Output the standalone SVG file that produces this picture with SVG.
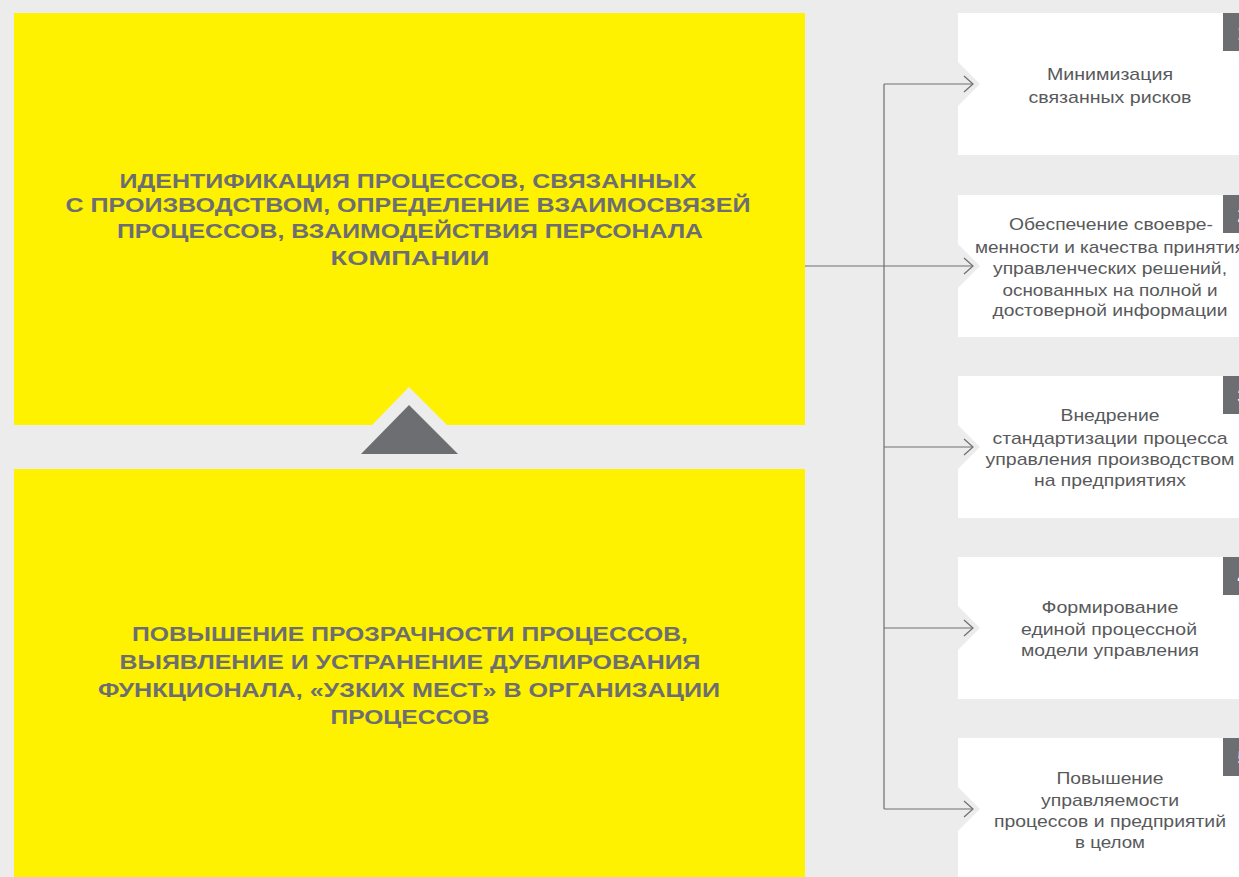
<svg xmlns="http://www.w3.org/2000/svg" width="1239" height="877" viewBox="0 0 1239 877">
<defs>
<style>
.bg{fill:#ececec}
.yel{fill:#fff200}
.box{fill:#ffffff}
.badge{fill:#6d6e71}
.big{font-family:"Liberation Sans",Arial,sans-serif;font-weight:bold;font-size:21px;fill:#6d6e71;text-anchor:middle}
.sm{font-family:"Liberation Sans",Arial,sans-serif;font-size:17px;fill:#58595b;text-anchor:middle}
.num{font-family:"Liberation Sans",Arial,sans-serif;font-weight:bold;font-size:20px;fill:#ffffff;text-anchor:middle}
.ln{fill:none;stroke:#6d6e71;stroke-width:1.2}
</style>
<marker id="chev" markerWidth="12" markerHeight="18" refX="10" refY="9" orient="auto" markerUnits="userSpaceOnUse">
<path d="M1,1 L10,9 L1,17" fill="none" stroke="#6d6e71" stroke-width="1.2"/>
</marker>
</defs>
<rect class="bg" x="0" y="0" width="1239" height="877"/>

<g id="node-top">
<rect class="yel" x="14" y="13" width="791" height="412"/>
<text class="big" x="408" y="188" textLength="577" lengthAdjust="spacingAndGlyphs">ИДЕНТИФИКАЦИЯ ПРОЦЕССОВ, СВЯЗАННЫХ</text>
<text class="big" x="408" y="212" textLength="685" lengthAdjust="spacingAndGlyphs">С ПРОИЗВОДСТВОМ, ОПРЕДЕЛЕНИЕ ВЗАИМОСВЯЗЕЙ</text>
<text class="big" x="410" y="238" textLength="586" lengthAdjust="spacingAndGlyphs">ПРОЦЕССОВ, ВЗАИМОДЕЙСТВИЯ ПЕРСОНАЛА</text>
<text class="big" x="410" y="265" textLength="159" lengthAdjust="spacingAndGlyphs">КОМПАНИИ</text>
</g>

<g id="node-bottom">
<rect class="yel" x="14" y="469" width="791" height="408"/>
<text class="big" x="410" y="641" textLength="556" lengthAdjust="spacingAndGlyphs">ПОВЫШЕНИЕ ПРОЗРАЧНОСТИ ПРОЦЕССОВ,</text>
<text class="big" x="410" y="669" textLength="581" lengthAdjust="spacingAndGlyphs">ВЫЯВЛЕНИЕ И УСТРАНЕНИЕ ДУБЛИРОВАНИЯ</text>
<text class="big" x="409" y="697" textLength="622" lengthAdjust="spacingAndGlyphs">ФУНКЦИОНАЛА, «УЗКИХ МЕСТ» В ОРГАНИЗАЦИИ</text>
<text class="big" x="410" y="724" textLength="159" lengthAdjust="spacingAndGlyphs">ПРОЦЕССОВ</text>
</g>

<g id="up-arrow">
<polygon class="bg" points="409,387 447,425 372,425"/>
<polygon class="badge" points="409,405 458,454 361,454"/>
</g>

<g id="node-1">
<path class="box" d="M958,13 H1239 V155 H958 V106 L980,84 L958,62 Z"/>
<rect class="badge" x="1223" y="13" width="40" height="38"/>
<text class="num" x="1243" y="40">1</text>
<text class="sm" x="1110" y="80" textLength="126" lengthAdjust="spacingAndGlyphs">Минимизация</text>
<text class="sm" x="1110" y="103" textLength="163" lengthAdjust="spacingAndGlyphs">связанных рисков</text>
</g>

<g id="node-2">
<path class="box" d="M958,195 H1239 V337 H958 V288 L980,266 L958,244 Z"/>
<rect class="badge" x="1223" y="195" width="40" height="38"/>
<text class="num" x="1243" y="222">2</text>
<text class="sm" x="1111" y="230" textLength="204" lengthAdjust="spacingAndGlyphs">Обеспечение своевре-</text>
<text class="sm" x="1110" y="253" textLength="270" lengthAdjust="spacingAndGlyphs">менности и качества принятия</text>
<text class="sm" x="1110" y="274" textLength="234" lengthAdjust="spacingAndGlyphs">управленческих решений,</text>
<text class="sm" x="1110" y="296" textLength="215" lengthAdjust="spacingAndGlyphs">основанных на полной и</text>
<text class="sm" x="1110" y="316" textLength="235" lengthAdjust="spacingAndGlyphs">достоверной информации</text>
</g>

<g id="node-3">
<path class="box" d="M958,376 H1239 V518 H958 V469 L980,447 L958,425 Z"/>
<rect class="badge" x="1223" y="376" width="40" height="38"/>
<text class="num" x="1243" y="403">3</text>
<text class="sm" x="1110" y="421" textLength="99" lengthAdjust="spacingAndGlyphs">Внедрение</text>
<text class="sm" x="1110" y="444" textLength="235" lengthAdjust="spacingAndGlyphs">стандартизации процесса</text>
<text class="sm" x="1110" y="465" textLength="249" lengthAdjust="spacingAndGlyphs">управления производством</text>
<text class="sm" x="1110" y="486" textLength="152" lengthAdjust="spacingAndGlyphs">на предприятиях</text>
</g>

<g id="node-4">
<path class="box" d="M958,557 H1239 V699 H958 V650 L980,628 L958,606 Z"/>
<rect class="badge" x="1223" y="557" width="40" height="38"/>
<text class="num" x="1243" y="584">4</text>
<text class="sm" x="1110" y="613" textLength="137" lengthAdjust="spacingAndGlyphs">Формирование</text>
<text class="sm" x="1109" y="635" textLength="176" lengthAdjust="spacingAndGlyphs">единой процессной</text>
<text class="sm" x="1110" y="656" textLength="178" lengthAdjust="spacingAndGlyphs">модели управления</text>
</g>

<g id="node-5">
<path class="box" d="M958,738 H1239 V877 H958 V831 L980,809 L958,787 Z"/>
<rect class="badge" x="1223" y="738" width="40" height="38"/>
<text class="num" x="1243" y="765">5</text>
<text class="sm" x="1110" y="784" textLength="107" lengthAdjust="spacingAndGlyphs">Повышение</text>
<text class="sm" x="1110" y="806" textLength="138" lengthAdjust="spacingAndGlyphs">управляемости</text>
<text class="sm" x="1110" y="827" textLength="232" lengthAdjust="spacingAndGlyphs">процессов и предприятий</text>
<text class="sm" x="1110" y="848" textLength="70" lengthAdjust="spacingAndGlyphs">в целом</text>
</g>

<g id="connectors">
<line class="ln" x1="805" y1="266" x2="884" y2="266"/>
<line class="ln" x1="884" y1="84" x2="884" y2="809"/>
<line class="ln" x1="884" y1="84" x2="973" y2="84" marker-end="url(#chev)"/>
<line class="ln" x1="884" y1="266" x2="973" y2="266" marker-end="url(#chev)"/>
<line class="ln" x1="884" y1="447" x2="973" y2="447" marker-end="url(#chev)"/>
<line class="ln" x1="884" y1="628" x2="973" y2="628" marker-end="url(#chev)"/>
<line class="ln" x1="884" y1="809" x2="973" y2="809" marker-end="url(#chev)"/>
</g>
</svg>
